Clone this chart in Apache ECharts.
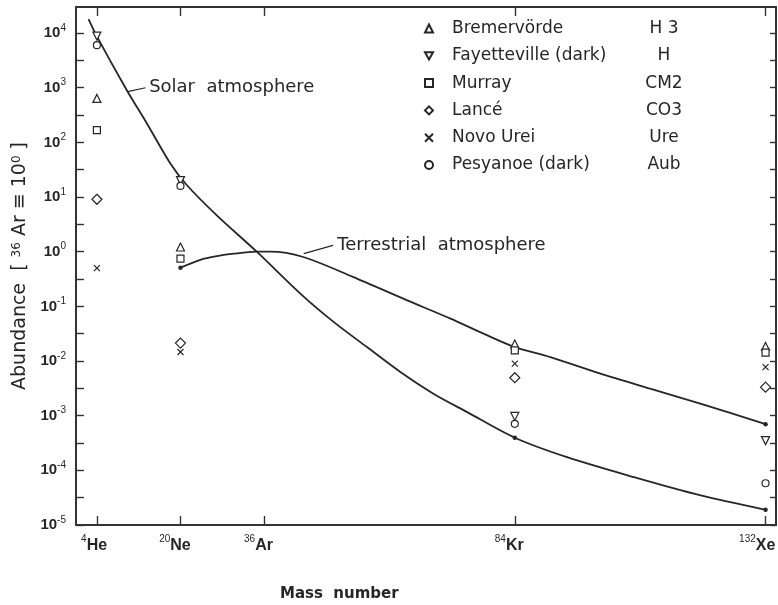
<!DOCTYPE html>
<html>
<head>
<meta charset="utf-8">
<script src="https://cdn.jsdelivr.net/npm/echarts@6/dist/echarts.min.js"></script>
<style>
  html, body { margin: 0; padding: 0; background: #fff; }
  #chart { width: 778px; height: 605px; }
</style>
</head>
<body>
<div id="chart"></div>
<script>
// Noble-gas isotopes along the mass-number axis
const isotopeMass = [4, 20, 36, 84, 132];
const isotopeSymbol = ['He', 'Ne', 'Ar', 'Kr', 'Xe'];

// Abundance axis: labelled decades and half-decade tick marks
const decadeValues = [1e-5, 1e-4, 1e-3, 1e-2, 1e-1, 1e0, 1e1, 1e2, 1e3, 1e4];
const decadeExponents = ['-5', '-4', '-3', '-2', '-1', '0', '1', '2', '3', '4'];
const halfDecadeTicks = [1e-5, 3.162e-5, 1e-4, 3.162e-4, 1e-3, 3.162e-3, 1e-2, 3.162e-2,
  1e-1, 3.162e-1, 1, 3.162, 10, 31.62, 100, 316.2, 1000, 3162, 10000, 31620];

// Meteorite measurements at He, Ne, Kr, Xe (relative to 36Ar = 1)
const measuredMass = [4, 20, 84, 132];
const bremervorde = [637, 1.22, 0.0205, 0.0185];
const fayetteville = [8800, 20, 0.00097, 0.00035];
const murray = [168, 0.75, 0.0157, 0.0142];
const lance = [9.1, 0.0213, 0.00495, 0.00333];
const novoUrei = [0.50, 0.0146, 0.00895, 0.00774];
const pesyanoe = [6000, 16, 0.00071, 0.000058];

const meteoriteNames = ['Bremervörde', 'Fayetteville (dark)', 'Murray', 'Lancé', 'Novo Urei', 'Pesyanoe (dark)'];
const meteoriteClasses = ['H 3', 'H', 'CM2', 'CO3', 'Ure', 'Aub'];

// Solar atmosphere abundance curve
const solarMass = [2.4, 4, 9.7, 13.6, 18, 21.2, 27, 34.6, 43.1, 49.3, 55.7, 62.1, 68.5, 74.9, 84, 94, 106.8, 119.6, 132];
const solarAbundance = [18000, 8700, 910, 220, 42, 16.6, 4.57, 1.0, 0.166, 0.052, 0.018, 0.0063, 0.0025, 0.00116,
  0.000395, 0.000174, 0.000075, 0.0000347, 0.000019];
const solarDotMass = [84, 132];

// Terrestrial atmosphere abundance curve
const terrMass = [20, 23.8, 27, 30.2, 34.6, 37.2, 43.5, 53, 63.4, 71.7, 78, 84, 90.8, 100.4, 109.9, 119.5, 132];
const terrAbundance = [0.51, 0.71, 0.83, 0.92, 1.0, 1.0, 0.80, 0.347, 0.129, 0.0597, 0.0317, 0.018, 0.0118,
  0.00587, 0.00312, 0.00166, 0.0007];
const terrDotMass = [20, 84, 132];

// Curve captions with their leader arrows (data coordinates)
const solarCaption = 'Solar  atmosphere';
const solarCaptionAt = [14.0, 1010];
const solarArrow = [[13.3, 1000], [9.9, 849]];
const terrCaption = 'Terrestrial  atmosphere';
const terrCaptionAt = [50.0, 1.31];
const terrArrow = [[49.2, 1.31], [43.6, 0.925]];

const INK = '#262626';
const FRAME = '#333';
const SANS = '"DejaVu Sans", sans-serif';
const LIB = '"Liberation Sans", Arial, sans-serif';

const chart = echarts.init(document.getElementById('chart'), null, { renderer: 'canvas' });

function pairs(xs, ys) { return xs.map((x, i) => [x, ys[i]]); }

const meteoriteSeries = [
  { data: bremervorde, symbol: 'triangle', size: 8 },
  { data: fayetteville, symbol: 'path://M0,0L10,0L5,9Z', size: 8 },
  { data: murray, symbol: 'rect', size: 7 },
  { data: lance, symbol: 'diamond', size: 10 },
  { data: novoUrei, symbol: 'path://M0,0L10,10M10,0L0,10', size: 6 },
  { data: pesyanoe, symbol: 'circle', size: 7 }
].map((m, i) => ({
  type: 'scatter',
  name: meteoriteNames[i],
  xAxisIndex: 0,
  yAxisIndex: 0,
  symbol: m.symbol,
  symbolSize: m.size,
  itemStyle: { color: '#fff', borderColor: INK, borderWidth: 1.2, opacity: 1 },
  emphasis: { disabled: true },
  z: 5,
  data: pairs(measuredMass, m.data)
}));

function curveSeries(name, xs, ys, dots, arrow) {
  return {
    type: 'line',
    name: name,
    xAxisIndex: 0,
    yAxisIndex: 0,
    smooth: 0.3,
    showSymbol: true,
    symbol: 'circle',
    symbolSize: (v) => (dots.indexOf(v[0]) >= 0 ? 4.5 : 0),
    itemStyle: { color: INK },
    lineStyle: { color: INK, width: 1.8 },
    emphasis: { disabled: true },
    silent: true,
    z: 3,
    data: pairs(xs, ys),
    markLine: {
      silent: true,
      symbol: ['none', 'arrow'],
      symbolSize: [0, 7],
      label: { show: false },
      lineStyle: { color: INK, width: 1.2, type: 'solid' },
      data: [[{ coord: arrow[0] }, { coord: arrow[1] }]]
    }
  };
}

const tickStyle = { color: FRAME, width: 1.4 };
const lineStyle = { color: FRAME, width: 2 };

const option = {
  backgroundColor: '#fff',
  animation: false,
  grid: { left: 76, right: 2, top: 7, bottom: 80, containLabel: false, outerBoundsMode: 'none' },
  legend: {
    orient: 'vertical',
    left: 419,
    top: 15,
    itemWidth: 8,
    itemHeight: 8,
    itemGap: 10.3,
    selectedMode: false,
    data: meteoriteNames,
    formatter: (name) => '{n|' + name + '}{c|' + meteoriteClasses[meteoriteNames.indexOf(name)] + '}',
    textStyle: {
      color: INK,
      fontFamily: SANS,
      fontSize: 17,
      rich: {
        n: { width: 187, padding: [0, 0, 0, 14], fontFamily: SANS, fontSize: 17, color: INK, lineHeight: 17 },
        c: { width: 50, align: 'center', fontFamily: SANS, fontSize: 17, color: INK, lineHeight: 17 }
      }
    }
  },
  xAxis: [
    {
      type: 'value', position: 'bottom', min: 0, max: 134,
      axisLine: { show: true, onZero: false, lineStyle: lineStyle },
      axisTick: { show: true, inside: true, length: 9, lineStyle: tickStyle, customValues: isotopeMass },
      splitLine: { show: false },
      axisLabel: {
        show: true,
        customValues: isotopeMass,
        margin: 9,
        formatter: (v) => {
          const i = isotopeMass.indexOf(v);
          return '{s|' + v + '}{e|' + isotopeSymbol[i] + '}{h|' + v + '}';
        },
        rich: {
          s: { fontFamily: LIB, fontSize: 10, color: INK, lineHeight: 10, verticalAlign: 'top' },
          e: { fontFamily: LIB, fontSize: 16, fontWeight: 'bold', color: INK, lineHeight: 24 },
          h: { fontFamily: LIB, fontSize: 10, color: 'rgba(0,0,0,0)', lineHeight: 10, verticalAlign: 'top' }
        }
      }
    },
    {
      type: 'value', position: 'top', min: 0, max: 134,
      axisLine: { show: true, onZero: false, lineStyle: lineStyle },
      axisTick: { show: true, inside: true, length: 9, lineStyle: tickStyle, customValues: isotopeMass },
      axisLabel: { show: false },
      splitLine: { show: false }
    }
  ],
  yAxis: [
    {
      type: 'log', logBase: 10, position: 'left', min: 1e-5, max: 30000,
      axisLine: { show: true, onZero: false, lineStyle: lineStyle },
      axisTick: { show: true, inside: true, length: 8, lineStyle: tickStyle, customValues: halfDecadeTicks },
      splitLine: { show: false },
      minorTick: { show: false },
      axisLabel: {
        show: true,
        customValues: decadeValues,
        margin: 10,
        formatter: (v) => {
          const i = decadeValues.findIndex((d) => Math.abs(Math.log10(d) - Math.log10(v)) < 1e-6);
          return '{b|10}{s|' + decadeExponents[i] + '}';
        },
        rich: {
          b: { fontFamily: LIB, fontSize: 15, fontWeight: 'bold', color: INK, lineHeight: 20 },
          s: { fontFamily: LIB, fontSize: 10, color: INK, lineHeight: 10, verticalAlign: 'top' }
        }
      },
      name: 'Abundance  [ {s|36} Ar ≡ 10{s|0} ]',
      nameLocation: 'middle',
      nameRotate: 90,
      nameGap: 45,
      nameTextStyle: {
        fontFamily: SANS, fontSize: 19, color: INK,
        rich: {
          s: { fontFamily: SANS, fontSize: 12, color: INK, lineHeight: 12, verticalAlign: 'top' }
        }
      }
    },
    {
      type: 'log', logBase: 10, position: 'right', min: 1e-5, max: 30000,
      axisLine: { show: true, onZero: false, lineStyle: lineStyle },
      axisTick: { show: true, inside: true, length: 6, lineStyle: tickStyle, customValues: halfDecadeTicks },
      axisLabel: { show: false },
      splitLine: { show: false },
      minorTick: { show: false }
    }
  ],
  series: [
    curveSeries('Solar atmosphere', solarMass, solarAbundance, solarDotMass, solarArrow),
    curveSeries('Terrestrial atmosphere', terrMass, terrAbundance, terrDotMass, terrArrow)
  ].concat(meteoriteSeries)
};

chart.setOption(option);

// Captions placed through the axes' own coordinate conversion
const finder = { xAxisIndex: 0, yAxisIndex: 0 };
const solarPx = chart.convertToPixel(finder, solarCaptionAt);
const terrPx = chart.convertToPixel(finder, terrCaptionAt);
chart.setOption({
  graphic: [
    {
      type: 'text', x: solarPx[0], y: solarPx[1], silent: true,
      style: { text: solarCaption, fontFamily: SANS, fontSize: 18, fill: INK, verticalAlign: 'middle', align: 'left' }
    },
    {
      type: 'text', x: terrPx[0], y: terrPx[1], silent: true,
      style: { text: terrCaption, fontFamily: SANS, fontSize: 18, fill: INK, verticalAlign: 'middle', align: 'left' }
    },
    {
      type: 'text', left: 280, top: 587, silent: true,
      style: { text: 'Mass  number', fontFamily: SANS, fontSize: 15, fontWeight: 'bold', fill: INK }
    }
  ]
});
</script>
</body>
</html>
